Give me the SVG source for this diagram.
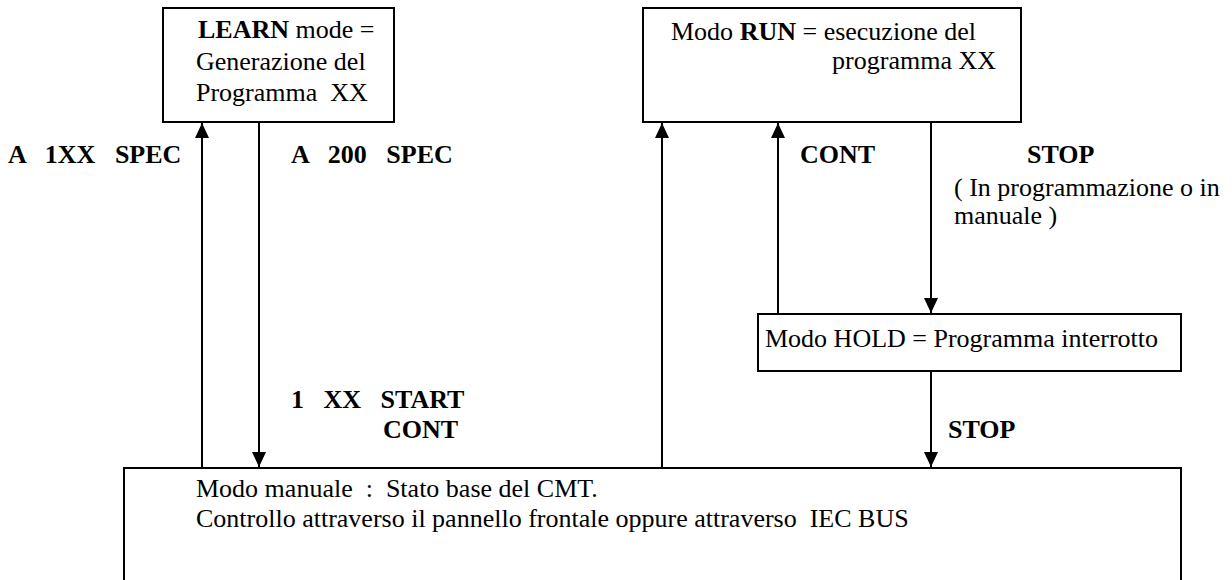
<svg xmlns="http://www.w3.org/2000/svg" width="1232" height="580" viewBox="0 0 1232 580">
<style>
  text { font-family: "Liberation Serif", "Times New Roman", serif; font-size: 26px; fill: #000; white-space: pre; }
  .b { font-weight: bold; }
  .box { fill: #fff; stroke: #000; stroke-width: 2; }
  .con { stroke: #000; stroke-width: 2; fill: none; }
</style>
<defs>
  <marker id="ah" markerWidth="15" markerHeight="14" refX="15" refY="7" orient="auto" markerUnits="userSpaceOnUse">
    <path d="M0,0 L15,7 L0,14 Z" fill="#000"/>
  </marker>
</defs>
<rect width="1232" height="580" fill="#fff"/>
<g id="connectors">
  <line class="con" x1="202" y1="468" x2="202" y2="123" marker-end="url(#ah)"/>
  <line class="con" x1="259" y1="122" x2="259" y2="467" marker-end="url(#ah)"/>
  <line class="con" x1="662" y1="468" x2="662" y2="123" marker-end="url(#ah)"/>
  <line class="con" x1="778" y1="314" x2="778" y2="123" marker-end="url(#ah)"/>
  <line class="con" x1="931" y1="122" x2="931" y2="313" marker-end="url(#ah)"/>
  <line class="con" x1="931" y1="371" x2="931" y2="467" marker-end="url(#ah)"/>
  <text class="b" x="8" y="163">A   1XX   SPEC</text>
  <text class="b" x="291" y="163">A   200   SPEC</text>
  <text class="b" x="800" y="163">CONT</text>
  <text class="b" x="1027" y="163">STOP</text>
  <text x="954" y="196">( In programmazione o in</text>
  <text x="954" y="224">manuale )</text>
  <text class="b" x="291" y="408">1   XX   START</text>
  <text class="b" x="383" y="438">CONT</text>
  <text class="b" x="948" y="438">STOP</text>
</g>
<g id="learn">
  <rect class="box" x="163" y="8" width="231" height="114"/>
  <text x="198" y="38"><tspan class="b">LEARN</tspan> mode =</text>
  <text x="196" y="70">Generazione del</text>
  <text x="196" y="101">Programma  XX</text>
</g>
<g id="run">
  <rect class="box" x="643" y="8" width="378" height="114"/>
  <text x="671" y="40">Modo <tspan class="b">RUN</tspan> = esecuzione del</text>
  <text x="996" y="69" text-anchor="end">programma XX</text>
</g>
<g id="hold">
  <rect class="box" x="758" y="314" width="423" height="57"/>
  <text x="765" y="347">Modo HOLD = Programma interrotto</text>
</g>
<g id="manual">
  <rect class="box" x="124" y="468" width="1057" height="140"/>
  <text x="196" y="497">Modo manuale  :  Stato base del CMT.</text>
  <text x="196" y="527">Controllo attraverso il pannello frontale oppure attraverso  IEC BUS</text>
</g>
</svg>
